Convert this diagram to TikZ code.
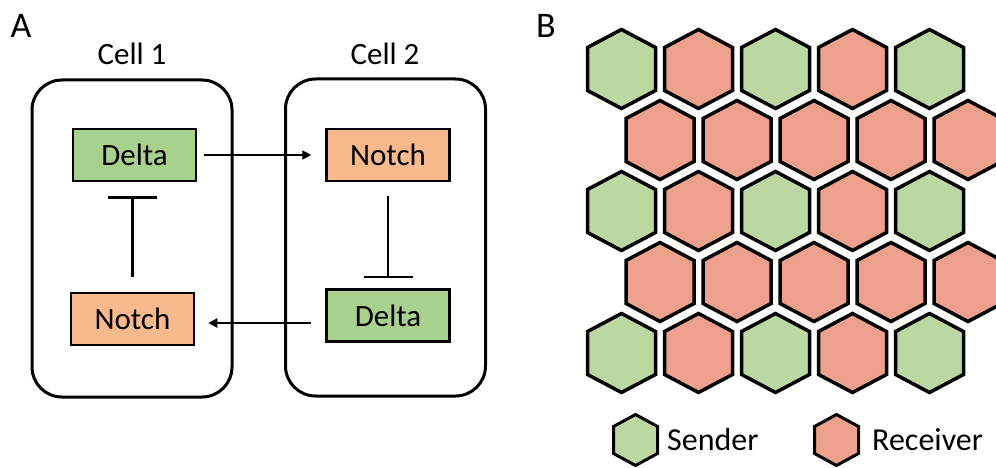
\documentclass[tikz,border=0pt]{standalone}
\usepackage{fontspec}
\setmainfont{Carlito}
\usetikzlibrary{arrows.meta}
\definecolor{boxgreen}{HTML}{A9D18E}
\definecolor{boxorange}{HTML}{F8BA8C}
\definecolor{hexgreen}{HTML}{BBD8A3}
\definecolor{hexpink}{HTML}{EDA08B}
\tikzset{
  lbl/.style={font=\fontsize{31}{37}\selectfont, inner sep=0pt},
  panel/.style={font=\fontsize{36}{42}\selectfont, inner sep=0pt},
  gene/.style={draw, line width=2.5pt, minimum width=123pt, minimum height=52pt, inner sep=0pt, font=\fontsize{31}{37}\selectfont},
  delta/.style={gene, fill=boxgreen},
  notch/.style={gene, fill=boxorange},
  cellbox/.style={draw, line width=3pt, rounded corners=30pt, minimum width=200pt, minimum height=317pt},
  act/.style={line width=2pt, -{Triangle[length=9pt,width=9pt]}},
  inh/.style={line width=2.5pt, -{Bar[width=49pt,line width=2.5pt]}},
  hexline/.style={draw=black, line width=3.5pt, line join=miter},
}
\newcommand{\hexat}[3]{\path[hexline, fill=#3] (#1,#2-39.5) -- (#1+34,#2-21.5) -- (#1+34,#2+21.5) -- (#1,#2+39.5) -- (#1-34,#2+21.5) -- (#1-34,#2-21.5) -- cycle;}
\newcommand{\smallhexat}[3]{\path[hexline, line width=3pt, fill=#3] (#1,#2-25.5) -- (#1+22,#2-13.5) -- (#1+22,#2+13.5) -- (#1,#2+25.5) -- (#1-22,#2+13.5) -- (#1-22,#2-13.5) -- cycle;}
\begin{document}
\begin{tikzpicture}[x=1pt,y=-1pt]
\useasboundingbox (0,0) rectangle (996,468);
\clip (0,0) rectangle (996,468);
% Panel A
\node[panel, anchor=base] (labA) at (21,38) {A};
\node[lbl, anchor=base] (c1lab) at (132,65) {Cell 1};
\node[lbl, anchor=base] (c2lab) at (385,65) {Cell 2};
\node[cellbox] (cell1) at (132,238.5) {};
\node[cellbox] (cell2) at (385.5,237.5) {};
\node[delta] (d1) at (134.5,155) {Delta};
\node[notch] (n2) at (388,155) {Notch};
\node[notch] (n1) at (132.5,319) {Notch};
\node[delta] (d2) at (388,315.5) {Delta};
\draw[act] ([xshift=7pt]d1.east) -- ([xshift=-14pt]n2.west);
\draw[act] ([xshift=-14pt,yshift=-7.5pt]d2.west) -- ([xshift=13pt,yshift=-4pt]n1.east);
\draw[inh] ([yshift=15pt]n1.north) -- ([yshift=-14pt]d1.south -| n1.north);
\draw[inh] ([yshift=-14pt]n2.south) -- ([yshift=10pt]d2.north -| n2.south);
% Panel B
\node[panel, anchor=base] (labB) at (546,38) {B};
\foreach \r in {0,2,4}{
  \foreach \c in {0,...,4}{
    \pgfmathsetmacro{\hx}{621.5+77*\c}
    \pgfmathsetmacro{\hy}{69+71*\r}
    \pgfmathtruncatemacro{\odd}{mod(\c,2)}
    \ifnum\odd=0 \hexat{\hx}{\hy}{hexgreen}\else \hexat{\hx}{\hy}{hexpink}\fi
  }
}
\foreach \r in {1,3}{
  \foreach \c in {0,...,4}{
    \pgfmathsetmacro{\hx}{660+77*\c}
    \pgfmathsetmacro{\hy}{69+71*\r}
    \hexat{\hx}{\hy}{hexpink}
  }
}
% Legend
\smallhexat{635.5}{440}{hexgreen}
\smallhexat{836.5}{440}{hexpink}
\node[lbl, anchor=base west, font=\fontsize{32}{38}\selectfont] (sender) at (667,450) {Sender};
\node[lbl, anchor=base west, font=\fontsize{32}{38}\selectfont] (receiver) at (872,450) {Receiver};
\end{tikzpicture}
\end{document}
